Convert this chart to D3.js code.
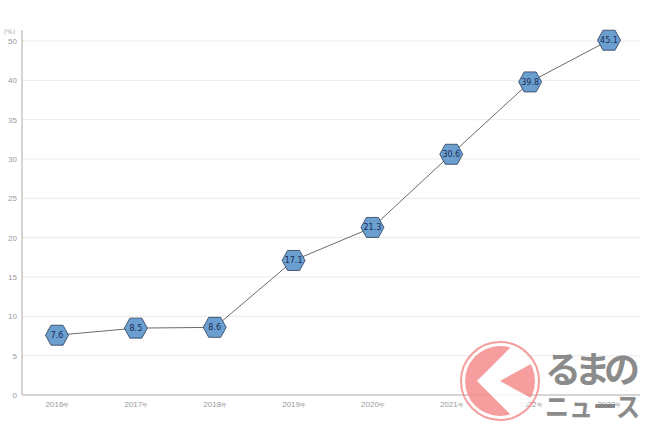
<!DOCTYPE html>
<html>
<head>
<meta charset="utf-8">
<script src="https://cdn.jsdelivr.net/npm/d3@7"></script>
<style>
  body { margin: 0; background: #fff; }
  svg { display: block; font-family: "DejaVu Sans", Roboto, sans-serif; }
</style>
</head>
<body>
<svg id="chart" width="650" height="433"></svg>
<script>
// data
var years = ["2016", "2017", "2018", "2019", "2020", "2021", "2022", "2023"];
var rates = [7.6, 8.5, 8.6, 17.1, 21.3, 30.6, 39.8, 45.1];
var yTicks = [0, 5, 10, 15, 20, 25, 30, 35, 40, 45];
var yTickLabels = ["0", "5", "10", "15", "20", "25", "30", "35", "40", "50"];
var unitLabel = "(%)";
var yearSuffix = "年";

function drawChart(id) {
var svg = d3.select("#" + id),
    width = +svg.attr("width"),
    height = +svg.attr("height");

var plotLeft = 22, plotRight = 640, plotTop = 41, plotBottom = 395;

var x = d3.scalePoint().domain(years).range([57, 609]);
var y = d3.scaleLinear().domain([0, 45]).range([plotBottom, plotTop]);

// grid lines
svg.append("g")
    .selectAll("line")
    .data(yTicks.slice(1))
    .enter().append("line")
    .attr("x1", plotLeft).attr("x2", plotRight)
    .attr("y1", function(d) { return y(d); })
    .attr("y2", function(d) { return y(d); })
    .attr("stroke", "#ebebeb")
    .attr("stroke-width", 1);

// y axis
var yAxis = svg.append("g")
    .attr("transform", "translate(" + plotLeft + ",0)")
    .call(d3.axisLeft(y).tickValues(yTicks).tickSize(0).tickPadding(5)
        .tickFormat(function(d, i) { return yTickLabels[i]; }));
yAxis.select(".domain").attr("stroke", "#aaa").attr("d", "M0,30V" + plotBottom);
yAxis.selectAll("text").attr("fill", "#999").attr("font-size", 8);

svg.append("text")
    .attr("x", 4).attr("y", 34)
    .attr("fill", "#aaa")
    .attr("font-size", 6.5)
    .text(unitLabel);

// x axis
var xAxis = svg.append("g")
    .attr("transform", "translate(0," + plotBottom + ")")
    .call(d3.axisBottom(x).tickSize(0).tickFormat(""));
xAxis.select(".domain").attr("stroke", "#aaa").attr("d", "M" + plotLeft + ",0H" + plotRight);
xAxis.selectAll(".tick text").remove();
xAxis.selectAll(".tick").append("text")
    .attr("y", 12)
    .attr("text-anchor", "middle")
    .attr("fill", "#999")
    .attr("font-size", 8)
    .each(function(d) {
      var t = d3.select(this);
      t.append("tspan").text(d);
      t.append("tspan").attr("font-size", 5.5).text(yearSuffix);
    });

// line
var pts = years.map(function(d, i) { return { year: d, value: rates[i] }; });

svg.append("path")
    .datum(pts)
    .attr("fill", "none")
    .attr("stroke", "#6b6b6b")
    .attr("stroke-width", 1)
    .attr("d", d3.line()
        .x(function(d) { return x(d.year); })
        .y(function(d) { return y(d.value); }));

// hexagon markers
var hex = "M-11.5,0L-6,-10L6,-10L11.5,0L6,10L-6,10Z";
var marks = svg.append("g")
    .selectAll("g")
    .data(pts)
    .enter().append("g")
    .attr("transform", function(d) { return "translate(" + x(d.year) + "," + y(d.value) + ")"; });

marks.append("path")
    .attr("d", hex)
    .attr("fill", "#6a9fd0")
    .attr("stroke", "#2c3a58")
    .attr("stroke-width", 0.8);

marks.append("text")
    .attr("text-anchor", "middle")
    .attr("dy", "0.35em")
    .attr("fill", "#1c2a52")
    .attr("font-size", 8)
    .text(function(d) { return d.value; });

// watermark logo
var cx = 500, cy = 381;
svg.append("defs").append("clipPath").attr("id", "disc")
    .append("circle").attr("cx", cx).attr("cy", cy).attr("r", 36);

var logo = svg.append("g").attr("opacity", 0.85);
logo.append("circle")
    .attr("cx", cx).attr("cy", cy).attr("r", 39)
    .attr("fill", "none").attr("stroke", "#f58c8c").attr("stroke-width", 2);
logo.append("circle")
    .attr("cx", cx).attr("cy", cy).attr("r", 35)
    .attr("fill", "#f58c8c");
logo.append("path")
    .attr("clip-path", "url(#disc)")
    .attr("d", "M" + (cx - 23) + "," + cy +
               "L" + (cx + 17) + "," + (cy - 40) +
               "L" + (cx + 40) + "," + (cy - 40) +
               "L" + (cx + 40) + "," + (cy - 22) +
               "L" + cx + "," + cy +
               "L" + (cx + 40) + "," + (cy + 22) +
               "L" + (cx + 40) + "," + (cy + 40) +
               "L" + (cx + 17) + "," + (cy + 40) + "Z")
    .attr("fill", "#fff");

logo.append("text")
    .attr("x", 545).attr("y", 383)
    .attr("textLength", 95)
    .attr("font-family", "'Noto Sans CJK JP', sans-serif")
    .attr("font-weight", "bold")
    .attr("font-size", 36)
    .attr("fill", "#777")
    .text("るまの");
logo.append("text")
    .attr("x", 545).attr("y", 417)
    .attr("textLength", 95)
    .attr("lengthAdjust", "spacingAndGlyphs")
    .attr("font-family", "'Noto Sans CJK JP', sans-serif")
    .attr("font-weight", "bold")
    .attr("font-size", 27)
    .attr("fill", "#777")
    .text("ニュース");
}

drawChart("chart");
</script>
</body>
</html>
